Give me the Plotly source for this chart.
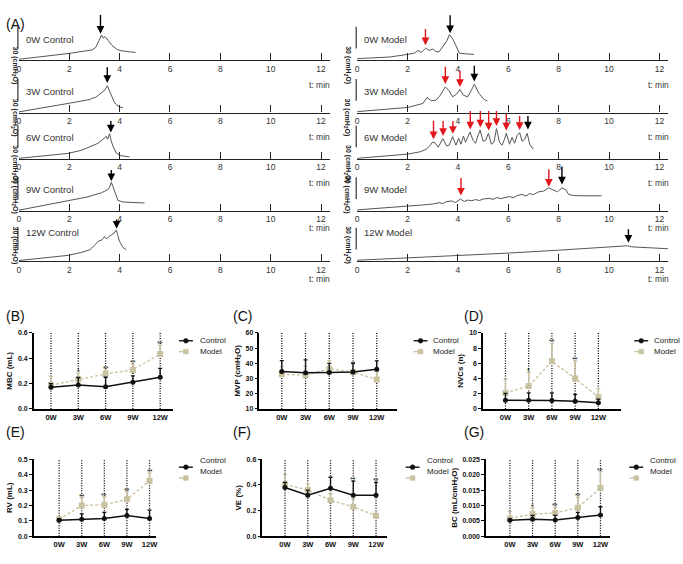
import plotly.graph_objects as go

W, H = 683, 564
FONT = "Liberation Sans, Arial, Helvetica, sans-serif"


def px(x):
    return x / W


def py(y):
    return 1 - y / H


# ---------------- Panel A data: time (min) and bladder pressure (cmH2O) ----------------
CTRL_0W_T = [0, 1, 2, 2.9, 3.05, 3.18, 3.28, 3.34, 3.42, 3.55, 3.7, 3.9, 4.1, 4.4, 4.63]
CTRL_0W_P = [1.4, 5.5, 9.5, 14.3, 17.7, 27.3, 34.8, 30.7, 32.7, 27.3, 20.5, 15.0, 13.0, 11.6, 10.9]
CTRL_3W_T = [0, 1, 2, 2.82, 2.9, 3.05, 3.28, 3.42, 3.51, 3.6, 3.67, 3.78, 3.86, 4.0, 4.13]
CTRL_3W_P = [1.0, 7.5, 13.0, 18.1, 19.8, 21.1, 27.3, 31.4, 37.2, 30.0, 22.8, 15.0, 11.3, 7.8, 6.8]
CTRL_6W_T = [0, 1, 1.96, 2.5, 2.88, 3.14, 3.34, 3.47, 3.52, 3.6, 3.66, 3.73, 3.87, 4.06, 4.39]
CTRL_6W_P = [1.0, 4.1, 7.8, 12.3, 18.1, 21.8, 27.3, 31.4, 27.3, 35.0, 25.9, 18.1, 8.2, 4.5, 3.1]
CTRL_9W_T = [0, 1, 1.96, 2.7, 3.28, 3.54, 3.6, 3.67, 3.73, 3.8, 3.93, 4.13, 4.5, 4.99]
CTRL_9W_P = [1.0, 7.5, 13.6, 19.1, 25.0, 29.6, 32.7, 39.5, 34.1, 27.3, 14.6, 12.3, 11.6, 10.9]
CTRL_12W_T = [0, 1, 1.96, 2.5, 2.82, 3.0, 3.14, 3.3, 3.4, 3.47, 3.55, 3.67, 3.78, 3.87, 3.93, 4.0, 4.13, 4.26]
CTRL_12W_P = [1.0, 4.8, 8.2, 12.3, 16.0, 21.8, 27.3, 29.6, 34.1, 31.0, 32.7, 36.4, 38.9, 43.2, 35.5, 27.3, 19.1, 16.0]

MOD_0W_T = [0, 1.29, 2.02, 2.28, 2.41, 2.55, 2.72, 2.85, 3.0, 3.12, 3.24, 3.37, 3.57, 3.66, 3.79, 3.92, 4.05, 4.3, 4.64]
MOD_0W_P = [2.3, 4.5, 8.2, 10.0, 13.6, 10.9, 16.8, 13.6, 15.7, 12.3, 11.3, 18.1, 27.3, 35.5, 29.6, 20.5, 10.0, 8.9, 8.2]
MOD_3W_T = [0, 1, 2.02, 2.61, 2.77, 2.95, 3.14, 3.3, 3.5, 3.65, 3.79, 3.95, 4.08, 4.22, 4.38, 4.52, 4.65, 4.84, 5.04, 5.17]
MOD_3W_P = [1.4, 4.1, 7.2, 12.7, 20.9, 16.4, 17.3, 24.1, 35.5, 30.0, 21.8, 25.9, 31.8, 24.1, 21.8, 30.0, 39.1, 26.3, 18.1, 16.4]
MOD_6W_T = [0, 1, 2.0, 2.5, 2.75, 2.9, 3.0, 3.1, 3.22, 3.4, 3.55, 3.65, 3.79, 3.92, 4.03, 4.12, 4.22, 4.3,
            4.38, 4.48, 4.6, 4.7, 4.8, 4.88, 5.0, 5.1, 5.21, 5.33, 5.43, 5.53, 5.65, 5.75, 5.85, 5.92, 6.05,
            6.15, 6.25, 6.35, 6.45, 6.55, 6.65, 6.75, 6.85, 6.95, 7.0]
MOD_6W_P = [1.0, 3.8, 6.8, 10.0, 13.6, 19.1, 23.6, 21.8, 16.4, 28.2, 18.1, 19.1, 31.0, 19.1, 28.6, 20.5, 31.8,
            23.2, 28.6, 37.2, 25.9, 21.8, 32.7, 40.0, 24.5, 25.9, 35.5, 20.5, 23.2, 41.9, 23.2, 19.1, 27.3,
            35.5, 20.5, 30.0, 21.8, 32.7, 36.4, 24.5, 27.3, 35.5, 20.5, 15.0, 14.6]
MOD_9W_T = [0, 1, 2.0, 2.6, 3.0, 3.24, 3.4, 3.55, 3.77, 3.9, 4.1, 4.25, 4.4, 4.55, 4.7, 4.85, 5.0, 5.23, 5.4,
            5.55, 5.7, 5.89, 6.05, 6.2, 6.35, 6.55, 6.7, 6.85, 7.0, 7.2, 7.4, 7.6, 7.8, 7.95, 8.13, 8.3, 8.39,
            8.6, 9.0, 9.7]
MOD_9W_P = [1.4, 3.8, 5.9, 8.2, 9.5, 11.3, 10.2, 13.0, 13.6, 11.6, 16.4, 13.0, 15.0, 14.0, 15.7, 14.3, 16.4,
            17.3, 16.0, 18.4, 17.0, 18.1, 19.8, 18.1, 21.1, 22.8, 20.5, 23.9, 22.5, 26.3, 27.3, 31.8, 28.6,
            26.3, 31.8, 28.6, 22.8, 21.1, 20.9, 20.9]
MOD_12W_T = [0, 2.0, 4.0, 6.0, 8.0, 9.95, 10.5, 10.74, 10.9, 11.3, 11.8, 12.34]
MOD_12W_P = [1.4, 4.5, 7.9, 11.3, 15.3, 19.1, 20.5, 21.4, 19.9, 19.1, 18.0, 17.3]

# Arrows: time (min), tip pressure, tail pressure (cmH2O)
CTRL_0W_VOID = [(3.24, 36.8, 64.1)]
CTRL_3W_VOID = [(3.51, 40.9, 64.5)]
CTRL_6W_VOID = [(3.65, 36.8, 54.5)]
CTRL_9W_VOID = [(3.67, 40.9, 58.4)]
CTRL_12W_VOID = [(3.88, 45.0, 59.7)]
MOD_0W_VOID = [(3.69, 37.5, 64.1)]
MOD_0W_NVC = [(2.71, 20.9, 45.0)]
MOD_3W_VOID = [(4.65, 43.0, 66.6)]
MOD_3W_NVC = [(3.50, 39.5, 65.2), (4.08, 35.5, 59.7)]
MOD_6W_VOID = [(6.78, 40.9, 61.4)]
MOD_6W_NVC = [(3.03, 27.3, 54.5), (3.41, 32.0, 54.5), (3.80, 34.8, 54.5), (4.49, 40.9, 68.2),
              (4.89, 43.6, 68.2), (5.22, 39.5, 68.2), (5.53, 45.7, 68.2), (5.92, 39.5, 64.1),
              (6.45, 40.2, 61.4)]
MOD_9W_VOID = [(8.13, 36.6, 63.0)]
MOD_9W_NVC = [(4.12, 21.1, 47.1), (7.61, 33.4, 59.3)]
MOD_12W_VOID = [(10.77, 25.6, 46.1)]

A_TRACES = [
    ("0W Control", CTRL_0W_T, CTRL_0W_P, CTRL_0W_VOID, []),
    ("3W Control", CTRL_3W_T, CTRL_3W_P, CTRL_3W_VOID, []),
    ("6W Control", CTRL_6W_T, CTRL_6W_P, CTRL_6W_VOID, []),
    ("9W Control", CTRL_9W_T, CTRL_9W_P, CTRL_9W_VOID, []),
    ("12W Control", CTRL_12W_T, CTRL_12W_P, CTRL_12W_VOID, []),
    ("0W Model", MOD_0W_T, MOD_0W_P, MOD_0W_VOID, MOD_0W_NVC),
    ("3W Model", MOD_3W_T, MOD_3W_P, MOD_3W_VOID, MOD_3W_NVC),
    ("6W Model", MOD_6W_T, MOD_6W_P, MOD_6W_VOID, MOD_6W_NVC),
    ("9W Model", MOD_9W_T, MOD_9W_P, MOD_9W_VOID, MOD_9W_NVC),
    ("12W Model", MOD_12W_T, MOD_12W_P, MOD_12W_VOID, []),
]
TIME_TICKS = [0, 2, 4, 6, 8, 10, 12]
SCALE_BAR = 30  # cmH2O

# ---------------- Panels B-G data ----------------
CATS = ["0W", "3W", "6W", "9W", "12W"]
MBC_CTRL = [0.17, 0.188, 0.175, 0.21, 0.25]
MBC_CTRL_SD = [0.03, 0.06, 0.075, 0.05, 0.07]
MBC_MODEL = [0.188, 0.232, 0.275, 0.308, 0.433]
MBC_MODEL_SD = [0.07, 0.05, 0.03, 0.045, 0.07]
MBC_STARS = ["", "*", "**", "**", "**"]

MVP_CTRL = [34.6, 33.7, 34.0, 34.2, 36.0]
MVP_CTRL_SD = [7.2, 8.5, 6.0, 6.0, 5.6]
MVP_MODEL = [32.8, 32.2, 36.4, 34.2, 29.3]
MVP_MODEL_SD = [5.0, 6.0, 5.4, 5.5, 5.5]
MVP_STARS = ["", "", "", "", ""]

NVC_CTRL = [1.15, 1.15, 1.12, 1.0, 0.8]
NVC_CTRL_SD = [0.9, 0.95, 1.0, 0.9, 0.5]
NVC_MODEL = [2.1, 3.0, 6.26, 4.0, 1.55]
NVC_MODEL_SD = [1.8, 1.8, 2.35, 2.3, 1.15]
NVC_STARS = ["", "*", "**", "**", ""]

RV_CTRL = [0.105, 0.11, 0.115, 0.135, 0.115]
RV_CTRL_SD = [0.01, 0.035, 0.04, 0.04, 0.055]
RV_MODEL = [0.11, 0.2, 0.205, 0.24, 0.36]
RV_MODEL_SD = [0.01, 0.05, 0.05, 0.05, 0.05]
RV_STARS = ["", "**", "**", "**", "**"]

VE_CTRL = [0.38, 0.32, 0.375, 0.32, 0.32]
VE_CTRL_SD = [0.04, 0.04, 0.085, 0.11, 0.10]
VE_MODEL = [0.405, 0.36, 0.28, 0.23, 0.16]
VE_MODEL_SD = [0.075, 0.05, 0.05, 0.06, 0.04]
VE_STARS = ["", "", "", "**", "**"]

BC_CTRL = [0.0052, 0.0055, 0.0053, 0.0061, 0.0069]
BC_CTRL_SD = [0.0004, 0.0013, 0.0015, 0.0017, 0.0027]
BC_MODEL = [0.0058, 0.0072, 0.0076, 0.0093, 0.0157]
BC_MODEL_SD = [0.0022, 0.002, 0.0018, 0.0034, 0.0053]
BC_STARS = ["", "*", "**", "**", "**"]

CTRL_COLOR = "#111111"
MODEL_COLOR = "#c8c2a0"
TRACE_COLOR = "#555555"
AXIS_COLOR = "#222222"

fig = go.Figure()
layout = {}
annotations = []
shapes = []


def axnames(k):
    xa = "x" if k == 1 else f"x{k}"
    ya = "y" if k == 1 else f"y{k}"
    xl = "xaxis" if k == 1 else f"xaxis{k}"
    yl = "yaxis" if k == 1 else f"yaxis{k}"
    return xa, ya, xl, yl


# ---------------- Panel A layout ----------------
PPM = 25.33            # px per minute
COL_X0 = [17.0, 357.3]
ROW_Y = [57.0, 110.0, 157.0, 209.5, 260.5]
X_END = 12.35
Y_PX = 44.0
Y_MAX = 60.0
PX_PER_CM = Y_PX / Y_MAX

for i, (label, tt, pp, voids, nvcs) in enumerate(A_TRACES):
    k = i + 1
    xa, ya, xl, yl = axnames(k)
    col, row = divmod(i, 5)
    x0 = COL_X0[col]
    yb = ROW_Y[row]
    layout[xl] = dict(
        domain=[px(x0), px(x0 + X_END * PPM)], range=[0, X_END], anchor=ya,
        showline=True, linecolor=AXIS_COLOR, linewidth=1.3,
        ticks="inside", ticklen=7, tickwidth=1.2, tickcolor=AXIS_COLOR,
        tickvals=TIME_TICKS, ticktext=[str(v) for v in TIME_TICKS],
        tickfont=dict(size=8.5, color="#333", family=FONT),
        showgrid=False, zeroline=False, fixedrange=True,
    )
    layout[yl] = dict(domain=[py(yb), py(yb - Y_PX)], range=[0, Y_MAX], anchor=xa,
                      visible=False, fixedrange=True)
    fig.add_trace(go.Scatter(x=tt, y=pp, mode="lines", line=dict(color=TRACE_COLOR, width=1),
                             xaxis=xa, yaxis=ya, showlegend=False, hoverinfo="skip"))
    annotations.append(dict(x=X_END + 0.3, y=0, xref=xa, yref=ya, ax=-10, ay=0, text="",
                            showarrow=True, arrowhead=2, arrowsize=0.9, arrowwidth=1.2,
                            arrowcolor=AXIS_COLOR))
    annotations.append(dict(x=11.95, y=py(yb + 17.5), xref=xa, yref="paper", text="t: min",
                            showarrow=False, font=dict(size=8.5, color="#333", family=FONT)))
    annotations.append(dict(x=px(x0 + 5), y=py(yb - 29), xref="paper", yref="paper", text=label,
                            xanchor="left", showarrow=False,
                            font=dict(size=9.5, color="#333", family=FONT)))
    bar_top = yb - 12 - SCALE_BAR * PX_PER_CM
    shapes.append(dict(type="line", xref="paper", yref="paper", x0=px(x0 - 1), x1=px(x0 - 1),
                       y0=py(yb - 12), y1=py(bar_top), line=dict(color="#333", width=1.2)))
    annotations.append(dict(x=px(x0 - 10), y=py(yb - 16), xref="paper", yref="paper",
                            text=f"<b>{SCALE_BAR} (cmH<sub>2</sub>O)</b>", textangle=90,
                            showarrow=False, font=dict(size=7, color="#222", family=FONT)))
    for (t, tip, tail) in voids:
        annotations.append(dict(x=t, y=tip, xref=xa, yref=ya, ax=0, ay=-(tail - tip) * PX_PER_CM,
                                text="", showarrow=True, arrowhead=2, arrowsize=1.1,
                                arrowwidth=1.4, arrowcolor="#000"))
    for (t, tip, tail) in nvcs:
        annotations.append(dict(x=t, y=tip, xref=xa, yref=ya, ax=0, ay=-(tail - tip) * PX_PER_CM,
                                text="", showarrow=True, arrowhead=2, arrowsize=1.1,
                                arrowwidth=1.4, arrowcolor="#e3161b"))

annotations.append(dict(x=px(2), y=py(10), xref="paper", yref="paper", text="(A)", xanchor="left",
                        showarrow=False, font=dict(size=14, color="#111", family=FONT)))

# ---------------- Panels B-G ----------------
TOP_ROW = (333, 410)
BOT_ROW = (461, 539)
PANELS = [
    dict(lab="(B)", title="MBC (mL)", c=MBC_CTRL, csd=MBC_CTRL_SD, m=MBC_MODEL, msd=MBC_MODEL_SD,
         stars=MBC_STARS, yr=[0, 0.6], tv=[0, 0.2, 0.4, 0.6], tt=["0.0", "0.2", "0.4", "0.6"],
         box=(32, 172) + TOP_ROW, xr=[-0.63, 4.47], labpos=(2, 316), leg=(185, 197)),
    dict(lab="(C)", title="MVP (cmH<sub>2</sub>O)", c=MVP_CTRL, csd=MVP_CTRL_SD, m=MVP_MODEL,
         msd=MVP_MODEL_SD, stars=MVP_STARS, yr=[10, 60], tv=[10, 20, 30, 40, 50, 60],
         tt=["10", "20", "30", "40", "50", "60"],
         box=(259, 397) + TOP_ROW, xr=[-0.94, 4.84], labpos=(230, 316), leg=(421, 432)),
    dict(lab="(D)", title="NVCs (n)", c=NVC_CTRL, csd=NVC_CTRL_SD, m=NVC_MODEL, msd=NVC_MODEL_SD,
         stars=NVC_STARS, yr=[0, 10], tv=[0, 2, 4, 6, 8, 10], tt=["0", "2", "4", "6", "8", "10"],
         box=(484, 623) + TOP_ROW, xr=[-0.96, 4.99], labpos=(463, 316), leg=(643, 654)),
    dict(lab="(E)", title="RV (mL)", c=RV_CTRL, csd=RV_CTRL_SD, m=RV_MODEL, msd=RV_MODEL_SD,
         stars=RV_STARS, yr=[0, 0.5], tv=[0, 0.1, 0.2, 0.3, 0.4, 0.5],
         tt=["0.0", "0.1", "0.2", "0.3", "0.4", "0.5"],
         box=(32, 155) + BOT_ROW, xr=[-1.12, 4.29], labpos=(2, 443), leg=(185, 197)),
    dict(lab="(F)", title="VE (%)", c=VE_CTRL, csd=VE_CTRL_SD, m=VE_MODEL, msd=VE_MODEL_SD,
         stars=VE_STARS, yr=[0, 0.6], tv=[0, 0.2, 0.4, 0.6], tt=["0.0", "0.2", "0.4", "0.6"],
         box=(262, 387) + BOT_ROW, xr=[-0.99, 4.47], labpos=(230, 443), leg=(413, 425)),
    dict(lab="(G)", title="BC (mL/cmH<sub>2</sub>O)", c=BC_CTRL, csd=BC_CTRL_SD, m=BC_MODEL,
         msd=BC_MODEL_SD, stars=BC_STARS, yr=[0, 0.025],
         tv=[0, 0.005, 0.01, 0.015, 0.02, 0.025],
         tt=["0.000", "0.005", "0.010", "0.015", "0.020", "0.025"],
         box=(487, 612) + BOT_ROW, xr=[-1.05, 4.44], labpos=(463, 443), leg=(638, 650)),
]

for j, P in enumerate(PANELS):
    k = 11 + j
    xa, ya, xl, yl = axnames(k)
    x0, x1, yt, ybt = P["box"]
    layout[xl] = dict(domain=[px(x0), px(x1)], anchor=ya, type="category", range=P["xr"],
                      showline=True, linecolor="#000", linewidth=1.5, ticks="",
                      tickfont=dict(size=7.5, color="#111", family=FONT, weight="bold"),
                      showgrid=False, zeroline=False, fixedrange=True)
    layout[yl] = dict(domain=[py(ybt), py(yt)], anchor=xa, range=P["yr"], tickvals=P["tv"],
                      ticktext=P["tt"], showline=True, linecolor="#000", linewidth=1.5,
                      ticks="outside", ticklen=3, tickwidth=1.2, tickcolor="#000",
                      tickfont=dict(size=7, color="#111", family=FONT, weight="bold"),
                      title=dict(text=P["title"], standoff=4,
                                 font=dict(size=8, color="#111", family=FONT, weight="bold")),
                      showgrid=False, zeroline=False, fixedrange=True)
    for cat in CATS:
        shapes.append(dict(type="line", xref=xa, yref=f"{ya} domain", x0=cat, x1=cat, y0=0, y1=1,
                           layer="below", line=dict(color="#000", width=1.3, dash="1px,1.5px")))
    fig.add_trace(go.Scatter(
        x=CATS, y=P["m"], mode="lines+markers", xaxis=xa, yaxis=ya, showlegend=False,
        line=dict(color=MODEL_COLOR, width=1.3, dash="3px,2px"),
        marker=dict(symbol="square", size=6, color=MODEL_COLOR),
        error_y=dict(type="data", array=P["msd"], arrayminus=[0] * 5, symmetric=False,
                     color=MODEL_COLOR, thickness=1.4, width=2)))
    fig.add_trace(go.Scatter(
        x=CATS, y=P["c"], mode="lines+markers", xaxis=xa, yaxis=ya, showlegend=False,
        line=dict(color=CTRL_COLOR, width=1.5),
        marker=dict(symbol="circle", size=5, color=CTRL_COLOR),
        error_y=dict(type="data", array=P["csd"], arrayminus=[0] * 5, symmetric=False,
                     color=CTRL_COLOR, thickness=1.3, width=2)))
    for cat, s, c, cs, m, ms in zip(CATS, P["stars"], P["c"], P["csd"], P["m"], P["msd"]):
        if s:
            annotations.append(dict(x=cat, y=max(c + cs, m + ms), xref=xa, yref=ya, text=s,
                                    showarrow=False, yanchor="bottom", yshift=-4,
                                    font=dict(size=7, color="#222", family=FONT)))
    lx, ly = P["labpos"]
    annotations.append(dict(x=px(lx), y=py(ly), xref="paper", yref="paper", text=P["lab"],
                            xanchor="left", showarrow=False,
                            font=dict(size=14, color="#111", family=FONT)))
    mc, tx = P["leg"]
    for name, color, dash, sym, dy in (("Control", CTRL_COLOR, "solid", "circle", 0),
                                        ("Model", MODEL_COLOR, "dash", "square", 11)):
        ly2 = yt + 8 + dy
        shapes.append(dict(type="line", xref="paper", yref="paper", x0=px(mc - 7), x1=px(mc + 7),
                           y0=py(ly2), y1=py(ly2), line=dict(color=color, width=1.4, dash=dash)))
        r = 2.4
        shapes.append(dict(type="circle" if sym == "circle" else "rect", xref="paper", yref="paper",
                           x0=px(mc - r), x1=px(mc + r), y0=py(ly2 - r), y1=py(ly2 + r),
                           fillcolor=color, line=dict(color=color, width=0.5)))
        annotations.append(dict(x=px(tx), y=py(ly2), xref="paper", yref="paper", text=name,
                                xanchor="left", showarrow=False,
                                font=dict(size=8, color="#222", family=FONT)))

layout.update(dict(width=W, height=H, autosize=False, margin=dict(l=0, r=0, t=0, b=0),
                   paper_bgcolor="white", plot_bgcolor="rgba(0,0,0,0)",
                   font=dict(family=FONT), showlegend=False,
                   annotations=annotations, shapes=shapes))
fig.update_layout(**layout)
fig.write_html("out.html", config={"displayModeBar": False},
               post_script="document.body.style.margin='0';document.body.style.overflow='hidden';")
